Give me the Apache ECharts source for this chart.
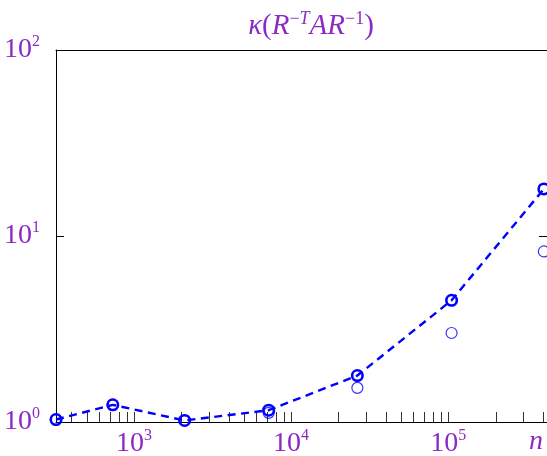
<!DOCTYPE html>
<html>
<head>
<meta charset="utf-8">
<script src="https://cdn.jsdelivr.net/npm/echarts@6/dist/echarts.min.js"></script>
<style>
html,body{margin:0;padding:0;background:#fff;}
#chart{width:547px;height:456px;}
</style>
</head>
<body>
<div id="chart"></div>
<script>
// ---- data ----
const nValues      = [319, 733, 2100, 7200, 26400, 105000, 406000];
const kappaDashed  = [1.031, 1.237, 1.019, 1.157, 1.777, 4.51, 17.9];
const kappaHollow  = [1.031, 1.237, 1.019, 1.12, 1.526, 3.01, 8.26];
const xTickValues  = [400, 500, 600, 700, 800, 900, 1000,
                      2000, 3000, 4000, 5000, 6000, 7000, 8000, 9000, 10000,
                      20000, 30000, 40000, 50000, 60000, 70000, 80000, 90000, 100000,
                      200000, 300000, 400000];
const xRange = [319, 425000];
const yRange = [1, 100];
const titleText = '{i|κ}{u|(}{i|R}{s|−}{si|T}{i|AR}{s|−1}{u|)}';
const xName = 'n';

const PURPLE = '#8c2bc4';
const BLUE = '#0000ff';
const FONT = '"Liberation Serif", "Times New Roman", serif';

function powLabel(v) {
  const e = Math.log10(v);
  const r = Math.round(e);
  if (Math.abs(e - r) > 1e-6) return '';
  return '{b|10}{s|' + r + '}';
}
const labelRich = {
  b: {fontSize: 28, fontFamily: FONT, color: PURPLE, lineHeight: 32},
  s: {fontSize: 16, fontFamily: FONT, color: PURPLE, lineHeight: 24, verticalAlign: 'top'}
};

const chart = echarts.init(document.getElementById('chart'), null, {renderer: 'canvas'});
chart.setOption({
  animation: false,
  backgroundColor: '#fff',
  title: {
    text: titleText,
    left: 311, top: 10, padding: 0,
    textAlign: 'center',
    textStyle: {
      fontWeight: 'normal',
      rich: {
        i: {fontSize: 29, fontFamily: FONT, fontStyle: 'italic', fontWeight: 'normal', color: PURPLE, lineHeight: 33},
        u: {fontSize: 29, fontFamily: FONT, fontWeight: 'normal', color: PURPLE, lineHeight: 33},
        s: {fontSize: 18, fontFamily: FONT, fontWeight: 'normal', color: PURPLE, lineHeight: 15, verticalAlign: 'top'},
        si: {fontSize: 18, fontFamily: FONT, fontStyle: 'italic', fontWeight: 'normal', color: PURPLE, lineHeight: 15, verticalAlign: 'top'}
      }
    }
  },
  grid: {left: 56, top: 50, right: 0, bottom: 34, containLabel: false, outerBoundsMode: 'none'},
  xAxis: [
    {
      type: 'log', logBase: 10, min: xRange[0], max: xRange[1], position: 'bottom',
      axisLine: {show: true, lineStyle: {color: '#000', width: 1}},
      axisTick: {show: false}, minorTick: {show: false}, splitLine: {show: false},
      axisLabel: {formatter: powLabel, rich: labelRich, margin: 6, showMinLabel: false, showMaxLabel: false}
    },
    {
      type: 'log', logBase: 10, min: xRange[0], max: xRange[1], position: 'top',
      axisLine: {show: true, lineStyle: {color: '#000', width: 1}},
      axisTick: {show: false}, axisLabel: {show: false}, splitLine: {show: false}
    }
  ],
  yAxis: [
    {
      type: 'log', logBase: 10, min: yRange[0], max: yRange[1], position: 'left',
      axisLine: {show: true, lineStyle: {color: '#000', width: 1}},
      axisTick: {show: true, inside: true, length: 8, lineStyle: {color: '#000', width: 1}},
      splitLine: {show: false},
      axisLabel: {formatter: powLabel, rich: labelRich, margin: 16}
    },
    {
      type: 'log', logBase: 10, min: yRange[0], max: yRange[1], position: 'right',
      axisLine: {show: true, lineStyle: {color: '#000', width: 1}},
      axisTick: {show: true, inside: true, length: 8, lineStyle: {color: '#000', width: 1}},
      splitLine: {show: false}, axisLabel: {show: false}
    }
  ],
  graphic: [{
    type: 'text', left: 529, top: 428,
    style: {text: xName, font: 'italic 28px ' + FONT, fill: PURPLE}
  }],
  series: [
    {
      type: 'custom', xAxisIndex: 0, yAxisIndex: 0, silent: true, clip: false, z: 1,
      data: xTickValues.map(v => [v, yRange[0]]),
      renderItem: function (params, api) {
        const p = api.coord([api.value(0), api.value(1)]);
        const x = Math.round(p[0]) + 0.5;
        return {type: 'line', shape: {x1: x, y1: p[1], x2: x, y2: p[1] - 10},
                style: {stroke: '#333', lineWidth: 1}};
      }
    },
    {
      type: 'scatter', xAxisIndex: 0, yAxisIndex: 0, clip: false, z: 3, silent: true,
      data: nValues.map((n, i) => [n, kappaHollow[i]]),
      symbol: 'circle', symbolSize: 11,
      itemStyle: {color: 'rgba(0,0,0,0)', borderColor: BLUE, borderWidth: 1.2}
    },
    {
      type: 'line', xAxisIndex: 0, yAxisIndex: 0, clip: false, z: 4, silent: true,
      data: nValues.map((n, i) => [n, kappaDashed[i]]),
      showSymbol: true, showAllSymbol: true,
      symbol: 'circle', symbolSize: 10.5,
      itemStyle: {color: 'rgba(0,0,0,0)', borderColor: BLUE, borderWidth: 2.6},
      lineStyle: {color: BLUE, width: 2.4, type: [8, 5.5]}
    }
  ]
});
</script>
</body>
</html>
